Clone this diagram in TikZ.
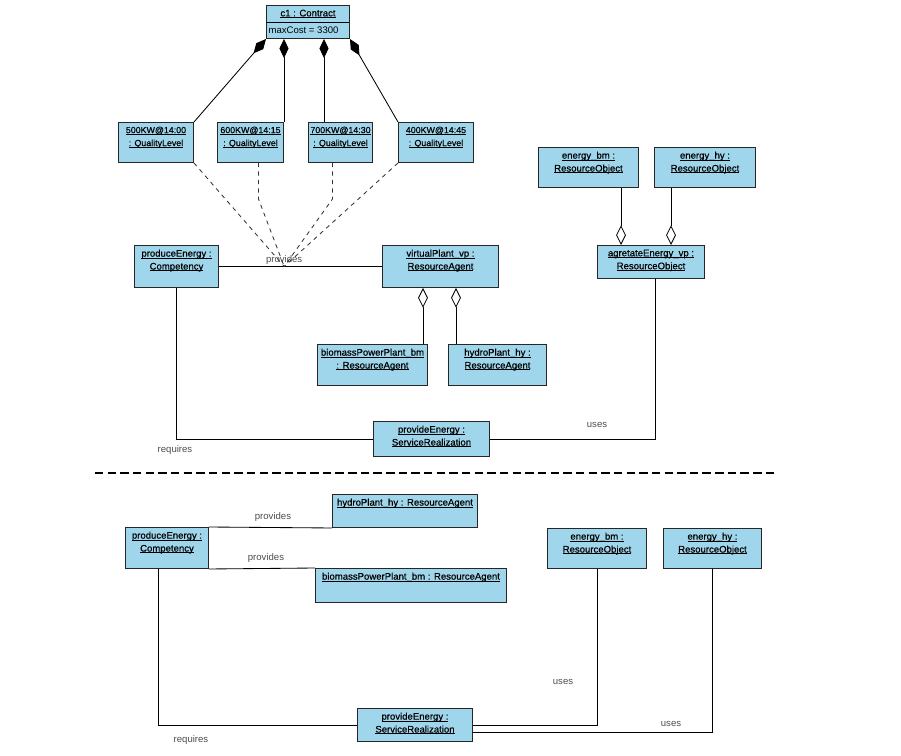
\documentclass[tikz,border=0pt]{standalone}
\usepackage{fontspec}
\setmainfont{Liberation Sans}
\newfontfamily\objfont{Liberation Sans}[FakeBold=0.5]
\usetikzlibrary{arrows.meta,calc,positioning}
\definecolor{objblue}{RGB}{160,214,235}
\newlength\pxu
\setlength\pxu{0.025cm}
\newcommand{\ulx}[1]{\leavevmode\setbox0=\hbox{#1}\rlap{\rule[-1.1pt]{\wd0}{0.45pt}}\box0}
\newcommand{\objtxt}[3]{\parbox[t][#2\pxu][t]{#1\pxu}{\objfont\centering\vspace*{3pt}#3}}
\newcommand{\qlsize}{\fontsize{6.3}{9.2}\selectfont}

\begin{document}
\begin{tikzpicture}[x=0.025cm, y=-0.025cm,
    font=\fontsize{6.8}{9.2}\selectfont,
    obj/.style={draw=black!85, line width=0.7pt, fill=objblue, inner sep=0pt, anchor=north west},
    lbl/.style={text=black!70, inner sep=1pt},
    conn/.style={line width=0.6pt},
    compo/.style={conn, {Diamond[length=13.5pt,width=6.5pt]}-},
    aggr/.style={conn, {Diamond[open,length=14pt,width=7pt]}-},
    dashlink/.style={conn, dashed, black!80},
    sepline/.style={line width=1.3pt, dash pattern=on 6pt off 3pt}]
  \useasboundingbox (0,0) rectangle (901,756);

  % contract and its quality levels
  \node[obj] (c1) at (266,5) {\parbox[t][33\pxu][t]{83\pxu}{\vspace*{3pt}{\centering\objfont\ulx{c1 : Contract}\par}\vspace{3.2pt}\hspace*{1.5pt}maxCost = 3300}};
  \draw[conn] (c1.north west) ++(0,17) -- ++(83,0);

  \node[obj] (ql500) at (118,122) {\objtxt{75}{40}{\qlsize\ulx{500KW@14:00}\\\ulx{: QualityLevel}}};
  \node[obj] (ql600) at (217,122) {\objtxt{66}{40}{\qlsize\ulx{600KW@14:15}\\\ulx{: QualityLevel}}};
  \node[obj] (ql700) at (308,122) {\objtxt{64}{40}{\qlsize\ulx{700KW@14:30}\\\ulx{: QualityLevel}}};
  \node[obj] (ql400) at (398,122) {\objtxt{75}{40}{\qlsize\ulx{400KW@14:45}\\\ulx{: QualityLevel}}};

  \draw[compo] (c1.south west) -- (ql500.north east);
  \draw[compo] (ql600.north east |- c1.south) -- (ql600.north east);
  \coordinate (c700) at ($(ql700.north west)+(16,0)$);
  \draw[compo] (c700 |- c1.south) -- (c700);
  \draw[compo] (c1.south east) -- (ql400.north west);

  % upper model
  \node[obj] (pe1) at (134,245) {\objtxt{84}{42}{\ulx{produceEnergy :}\\\ulx{Competency}}};
  \node[obj] (vp) at (382,245) {\objtxt{116}{42}{\ulx{virtualPlant\_vp :}\\\ulx{ResourceAgent}}};
  \node[obj] (eb1) at (538,147) {\objtxt{100}{40}{\ulx{energy\_bm :}\\\ulx{ResourceObject}}};
  \node[obj] (eh1) at (654,147) {\objtxt{101}{40}{\ulx{energy\_hy :}\\\ulx{ResourceObject}}};
  \node[obj] (ag) at (597,245) {\objtxt{107}{33}{\ulx{agretateEnergy\_vp :}\\\ulx{ResourceObject}}};
  \node[obj] (bp1) at (317,344) {\objtxt{110}{41}{\ulx{biomassPowerPlant\_bm}\\\ulx{: ResourceAgent}}};
  \node[obj] (hy1) at (448,344) {\objtxt{98}{41}{\ulx{hydroPlant\_hy :}\\\ulx{ResourceAgent}}};
  \node[obj] (se1) at (373,421) {\objtxt{116}{35}{\ulx{provideEnergy :}\\\ulx{ServiceRealization}}};

  \draw[conn] (pe1.east) -- (vp.west);
  \coordinate (pp) at ($(pe1.east)!.4!(vp.west)$);
  \node[lbl, above=0pt of pp] (prov1) {provides};
  \draw[dashlink] (ql500.south east) -- (pp);
  \draw[dashlink] ($(ql600.south)+(8,0)$) -- ++(0,36) -- (pp);
  \draw[dashlink] ($(ql700.south)+(-8,0)$) -- ++(0,36) -- (pp);
  \draw[dashlink] (ql400.south west) -- (pp);

  \coordinate (ag1) at ($(ag.north west)+(24,0)$);
  \coordinate (ag2) at ($(ag.north west)+(74,0)$);
  \draw[aggr] (ag1) -- (ag1 |- eb1.south);
  \draw[aggr] (ag2) -- (ag2 |- eh1.south);

  \coordinate (vp1) at ($(vp.south west)+(41,0)$);
  \coordinate (vp2) at ($(vp.south west)+(74,0)$);
  \draw[aggr] (vp1) -- (vp1 |- bp1.north);
  \draw[aggr] (vp2) -- (vp2 |- hy1.north);

  \coordinate (agb) at ($(ag.south)+(4,0)$);
  \draw[conn] (pe1.south) |- (se1.west);
  \draw[conn] (agb) |- (se1.east);
  \node[lbl] (req1) at (175,450) {requires};
  \node[lbl] (use1) at (597,425) {uses};

  % separator
  \coordinate (sepL) at (95,473);
  \coordinate (sepR) at (775,473);
  \draw[sepline] (sepL) -- (sepR);

  % lower model
  \node[obj] (hy2) at (332,494) {\objtxt{145}{33}{\ulx{hydroPlant\_hy : ResourceAgent}}};
  \node[obj] (pe2) at (125,527) {\objtxt{83}{41}{\ulx{produceEnergy :}\\\ulx{Competency}}};
  \node[obj] (bp2) at (315,568) {\objtxt{191}{34}{\ulx{biomassPowerPlant\_bm : ResourceAgent}}};
  \node[obj] (eb2) at (547,528) {\objtxt{99}{40}{\ulx{energy\_bm :}\\\ulx{ResourceObject}}};
  \node[obj] (eh2) at (663,528) {\objtxt{98}{40}{\ulx{energy\_hy :}\\\ulx{ResourceObject}}};
  \node[obj] (se2) at (357,708) {\objtxt{115}{33}{\ulx{provideEnergy :}\\\ulx{ServiceRealization}}};

  \draw[conn] (pe2.north east) -- (hy2.south west);
  \draw[conn] (pe2.south east) -- (bp2.north west);
  \node[lbl] (prov2) at (273,517) {provides};
  \node[lbl] (prov3) at (266,558) {provides};

  \coordinate (pe2b) at ($(pe2.south west)+(33,0)$);
  \coordinate (se2r) at ($(se2.east)+(0,7.5)$);
  \draw[conn] (pe2b) |- (se2.west);
  \draw[conn] (eb2.south) |- (se2.east);
  \draw[conn] (eh2.south) |- (se2r);
  \node[lbl] (use2) at (563,682) {uses};
  \node[lbl] (use3) at (671,724) {uses};
  \node[lbl] (req2) at (191,740) {requires};
\end{tikzpicture}
\end{document}
